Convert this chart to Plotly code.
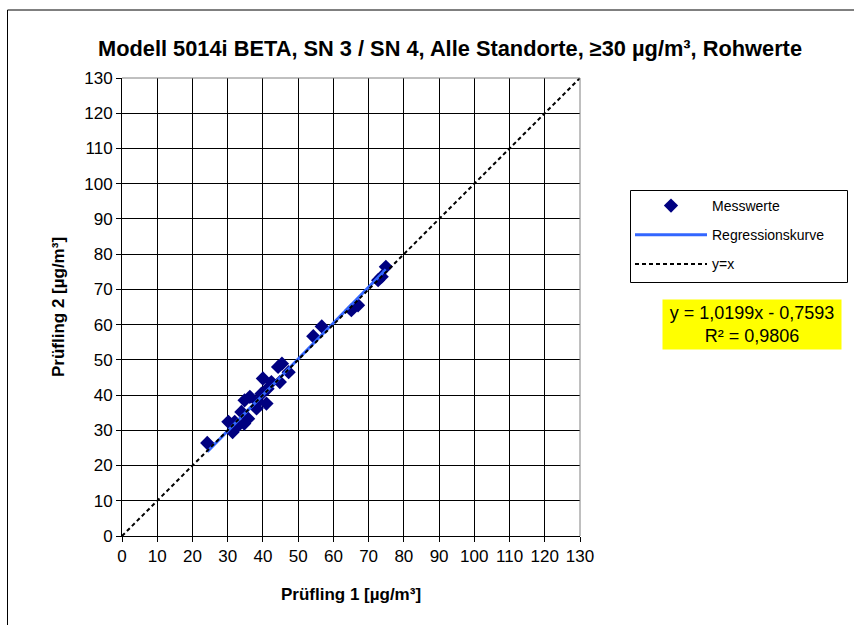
import plotly.graph_objects as go

# Data
x_vals = [24.2, 30.2, 31.4, 32.5, 34.7, 33.9, 36.3, 38.2, 41.0, 40.0, 42.4, 44.3, 45.4,
          44.8, 38.5, 34.8, 32.0, 41.3, 39.6, 35.8, 47.3, 54.3, 56.7, 65.1, 67.0, 72.7,
          73.7, 74.9]
y_vals = [26.4, 32.4, 29.5, 30.9, 31.9, 35.2, 39.5, 36.2, 37.6, 44.7, 43.7, 48.0, 48.9,
          43.7, 38.0, 38.5, 32.4, 41.8, 40.4, 33.3, 46.5, 56.7, 59.5, 64.1, 65.5, 72.6,
          73.6, 76.4]
slope = 1.0199
intercept = -0.7593
reg_x = [24.2, 74.9]
reg_y = [slope * v + intercept for v in reg_x]
diag = [0, 130]
ticks = list(range(0, 131, 10))

title_text = "Modell 5014i BETA, SN 3 / SN 4, Alle Standorte, ≥30 µg/m³, Rohwerte"
FONT = "Arial, Liberation Sans"

fig = go.Figure()
fig.add_trace(go.Scatter(x=x_vals, y=y_vals, mode="markers", name="Messwerte",
                         legendgroup="a",
                         marker=dict(symbol="diamond", size=11, color="#000080")))
fig.add_trace(go.Scatter(x=reg_x, y=reg_y, mode="lines", name="Regressionskurve",
                         legendgroup="b",
                         line=dict(color="#3366FF", width=3)))
fig.add_trace(go.Scatter(x=diag, y=diag, mode="lines", name="y=x",
                         legendgroup="c",
                         line=dict(color="black", width=2, dash="4px,3px")))

W, H = 854, 625
L, R, T, B = 122, 580, 78, 536
pw, ph = R - L, B - T

def px(xp):
    return (xp - L) / pw

def py(yp):
    return (B - yp) / ph

axis_common = dict(range=[0, 130], tickvals=ticks, showgrid=True, gridcolor="black",
                   gridwidth=1, zeroline=False, showline=True, linecolor="black",
                   linewidth=1, ticks="outside", ticklen=5, tickcolor="black",
                   tickfont=dict(family=FONT, size=17, color="black"),
                   fixedrange=True)

fig.update_layout(
    width=W, height=H,
    margin=dict(l=L, r=W - R, t=T, b=H - B),
    paper_bgcolor="white", plot_bgcolor="white",
    font=dict(family=FONT, color="black"),
    title=dict(text="<b>" + title_text + "</b>", x=0.5 * (97 + 803) / W, xanchor="center",
               y=1 - 48 / H, yanchor="middle",
               font=dict(size=21.8, family=FONT, color="black")),
    xaxis=dict(axis_common,
               title=dict(text="<b>Prüfling 1 [µg/m³]</b>", standoff=22,
                          font=dict(size=17, family=FONT))),
    yaxis=dict(axis_common,
               title=dict(text="<b>Prüfling 2 [µg/m³]</b>", standoff=15,
                          font=dict(size=17, family=FONT))),
    showlegend=True,
    legend=dict(x=px(630), y=py(190), xanchor="left", yanchor="top",
                borderwidth=0, bgcolor="rgba(0,0,0,0)",
                font=dict(size=14, family=FONT, color="black"),
                traceorder="grouped", tracegroupgap=8, itemwidth=72),
)

# top and right plot-area border in grey
fig.add_shape(type="line", xref="paper", yref="paper", x0=0, x1=1, y0=1, y1=1,
              line=dict(color="#808080", width=1))
fig.add_shape(type="line", xref="paper", yref="paper", x0=1, x1=1, y0=0, y1=1,
              line=dict(color="#808080", width=1))
# outer chart border (partially visible)
fig.add_shape(type="rect", xref="paper", yref="paper", x0=px(7.5), x1=px(900),
              y0=py(700), y1=py(10), line=dict(color="black", width=1), layer="below")
# legend frame
fig.add_shape(type="rect", xref="paper", yref="paper", x0=px(630.5), x1=px(847.5),
              y0=py(282.5), y1=py(190.5), line=dict(color="black", width=1))

fig.add_annotation(xref="paper", yref="paper", x=px(752), y=py(324),
                   xanchor="center", yanchor="middle", showarrow=False,
                   text="y = 1,0199x - 0,7593<br>R² = 0,9806", align="center",
                   bgcolor="#FFFF00", width=176, height=47,
                   font=dict(size=18, family=FONT, color="black"))

fig.write_html("out.html", config={"displayModeBar": False},
               post_script="document.body.style.margin='0';")
